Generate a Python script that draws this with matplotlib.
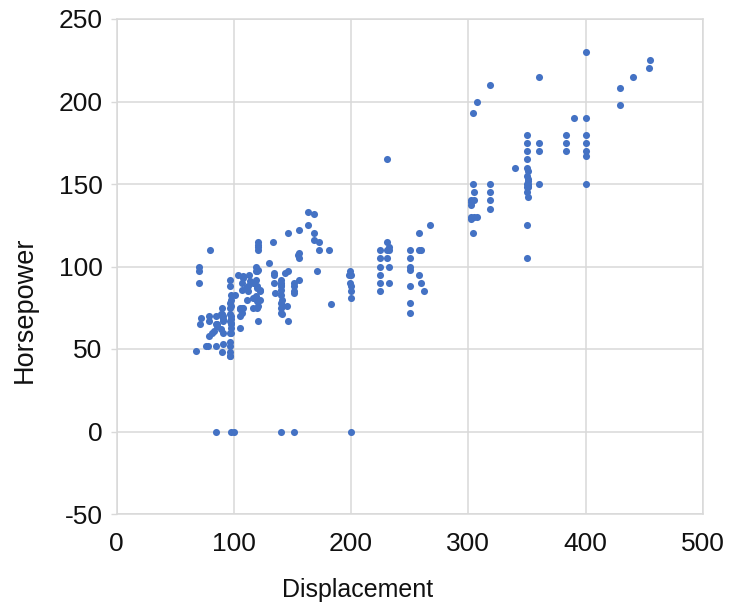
import matplotlib
matplotlib.use("Agg")
import matplotlib.pyplot as plt

plt.rcParams["axes.unicode_minus"] = False

displacement = (
    [68, 70, 70, 70, 71, 72, 76, 78, 79, 79, 79, 80, 81, 83]
    + [85, 85, 85, 85, 86, 86, 89, 89, 90, 90, 90, 90]
    + [91, 91, 91, 91, 91, 97, 97, 97, 97, 97, 97]
    + [97, 97, 97, 97, 97, 97, 98, 98, 98, 98, 98]
    + [98, 98, 98, 98, 98, 100, 101, 104, 105, 105, 105, 105]
    + [107, 107, 107, 107, 108, 108, 108, 110, 111, 112, 112, 113, 114]
    + [116, 116, 116, 119, 119, 119, 119, 120, 120, 120, 120, 120]
    + [121, 121, 121, 121, 121, 121, 121, 122, 122, 122]
    + [130, 133, 134, 134, 134, 135, 140, 140, 140, 140, 140]
    + [140, 140, 140, 140, 140, 141, 141, 141, 144, 145]
    + [146, 146, 146, 151, 151, 151, 151, 151, 155, 156, 156, 156, 156]
    + [163, 163, 168, 168, 168, 171, 173, 173, 181, 183, 198, 199, 199]
    + [200, 200, 200, 200, 200, 225, 225, 225, 225, 225, 225]
    + [231, 231, 231, 231, 232, 232, 232, 232]
    + [250, 250, 250, 250, 250, 250, 250, 258, 258, 258, 260, 260, 262, 267]
    + [302, 302, 302, 302, 302, 304, 304, 304, 305, 305, 305, 307, 307]
    + [318, 318, 318, 318, 318, 340, 350, 350, 350, 350, 350, 350]
    + [350, 350, 350, 350, 350, 351, 351, 351, 351, 351, 351, 351]
    + [360, 360, 360, 360, 383, 383, 383, 390, 400, 400, 400, 400]
    + [400, 400, 400, 429, 429, 440, 454, 455]
)

horsepower = (
    [49, 90, 97, 100, 65, 69, 52, 52, 58, 67, 70, 110, 60, 61]
    + [52, 65, 70, 0, 64, 65, 62, 71, 48, 70, 71, 75]
    + [53, 60, 67, 68, 70, 46, 46, 48, 52, 54, 60]
    + [67, 71, 75, 78, 88, 92, 60, 63, 65, 66, 68]
    + [70, 76, 80, 83, 0, 0, 83, 95, 63, 70, 74, 75]
    + [72, 75, 86, 90, 75, 93, 94, 87, 80, 85, 88, 95, 91]
    + [75, 81, 90, 82, 92, 97, 100, 75, 79, 87, 88, 97]
    + [67, 76, 98, 110, 112, 113, 115, 80, 85, 86]
    + [102, 115, 90, 95, 96, 84, 72, 75, 78, 83, 86]
    + [88, 89, 90, 92, 0, 71, 76, 80, 96, 76]
    + [67, 97, 120, 84, 85, 88, 90, 0, 107, 92, 105, 108, 122]
    + [125, 133, 116, 120, 132, 97, 110, 115, 110, 77, 95, 90, 97]
    + [81, 85, 88, 95, 0, 85, 90, 95, 100, 105, 110]
    + [105, 110, 115, 165, 90, 100, 110, 112]
    + [72, 78, 88, 98, 100, 105, 110, 95, 110, 120, 90, 110, 85, 125]
    + [129, 130, 137, 139, 140, 120, 150, 193, 130, 140, 145, 130, 200]
    + [135, 140, 145, 150, 210, 160, 105, 125, 145, 148, 150, 155]
    + [160, 165, 170, 175, 180, 142, 148, 149, 150, 152, 153, 158]
    + [150, 170, 175, 215, 170, 175, 180, 190, 150, 167, 170, 175]
    + [180, 190, 230, 198, 208, 215, 220, 225]
)

x_ticks = [0, 100, 200, 300, 400, 500]
y_ticks = [-50, 0, 50, 100, 150, 200, 250]
x_label = "Displacement"
y_label = "Horsepower"

assert len(displacement) == len(horsepower)

fam = "Liberation Sans"
W, H = 734, 608
fig = plt.figure(figsize=(W / 100, H / 100), dpi=100)
left, right, top, bottom = 116.5, 703, 19, 514
ax = fig.add_axes([left / W, (H - bottom) / H, (right - left) / W, (bottom - top) / H])

ax.scatter(displacement, horsepower, s=26, color="#4472C4", linewidths=0, zorder=3)

ax.set_xlim(0, 500)
ax.set_ylim(-50, 250)
ax.set_xticks(x_ticks)
ax.set_yticks(y_ticks)
ax.grid(True, color="#d9d9d9", linewidth=1.1, zorder=0)
ax.set_axisbelow(True)
for s in ax.spines.values():
    s.set_color("#d9d9d9")
    s.set_linewidth(1.1)

ax.tick_params(axis="y", length=4, width=1, color="#d9d9d9", pad=6)
ax.tick_params(axis="x", length=0, pad=13)
for lab in ax.get_xticklabels() + ax.get_yticklabels():
    lab.set_fontfamily(fam)
    lab.set_fontsize(19)
    lab.set_color("#111111")

fig.text(358 / W, 1 - 590 / H, x_label, ha="center", va="center",
         fontsize=18, family=fam, color="#111111")
fig.text(25 / W, 1 - 310 / H, y_label, ha="center", va="center", rotation=90,
         fontsize=19.5, family=fam, color="#111111")

fig.savefig("out.png", dpi=100)
